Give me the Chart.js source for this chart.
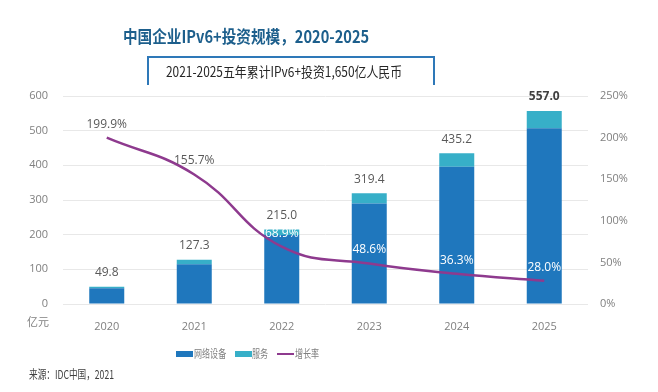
<!DOCTYPE html>
<html>
<head>
<meta charset="utf-8">
<script src="https://cdn.jsdelivr.net/npm/chart.js@4.4.0/dist/chart.umd.min.js"></script>
<style>
    body { margin: 0; background: #fff; font-family: "Open Sans", "Noto Sans CJK SC", sans-serif; }
    #wrap { position: relative; width: 658px; height: 392px; overflow: hidden; }
    #chart { position: absolute; left: 0; top: 0; }
    .txt { position: absolute; white-space: nowrap; transform-origin: left top; }
    #title { left: 123px; top: 23px; font-size: 17px; font-weight: bold; color: #1d5f8c;
             font-family: "Noto Sans CJK SC", sans-serif; transform: scaleX(0.86); }
    #bracket { position: absolute; left: 147px; top: 56px; width: 284px; height: 27px;
               border: 2px solid #2e78b8; border-bottom: none; }
    #subtitle { left: 166px; top: 61px; font-size: 14px; color: #262626;
                font-family: "Noto Sans CJK SC", sans-serif; transform: scaleX(0.85); }
    #unit { left: 27px; top: 313px; font-size: 11px; color: #808080; font-family: "Noto Sans CJK SC", sans-serif; }
    .lbox { position: absolute; width: 17px; }
    .ltxt { top: 345px; font-size: 11.5px; color: #7f7f7f; font-family: "Noto Sans CJK SC", sans-serif;
            transform: scaleX(0.7); }
    #source { left: 29px; top: 365px; font-size: 12px; color: #404040; font-family: "Noto Sans CJK SC", sans-serif;
              transform: scaleX(0.72); }
</style>
</head>
<body>
<div id="wrap">
    <canvas id="chart" width="658" height="392"></canvas>
    <div class="txt" id="title">中国企业IPv6+投资规模，2020-2025</div>
    <div id="bracket"></div>
    <div class="txt" id="subtitle">2021-2025五年累计IPv6+投资1,650亿人民币</div>
    <div class="txt" id="unit">亿元</div>

    <!-- legend -->
    <div class="lbox" style="left:176px;top:351px;height:6px;background:#1f77bd"></div>
    <div class="txt ltxt" style="left:194px">网络设备</div>
    <div class="lbox" style="left:235px;top:351px;height:6px;background:#37afc8"></div>
    <div class="txt ltxt" style="left:252px">服务</div>
    <div class="lbox" style="left:277px;top:353px;height:2px;background:#8e3a8e"></div>
    <div class="txt ltxt" style="left:295px">增长率</div>

    <div class="txt" id="source">来源：IDC中国，2021</div>
</div>
<script>
    // data
    const years = ['2020', '2021', '2022', '2023', '2024', '2025']
    const network = [45.5, 115.0, 199.0, 290.0, 395.7, 507.0]
    const service = [4.3, 12.3, 16.0, 29.4, 39.5, 50.0]
    const totals = [49.8, 127.3, 215.0, 319.4, 435.2, 557.0]
    const growth = [199.9, 155.7, 68.9, 48.6, 36.3, 28.0]
    const leftTicks = [0, 100, 200, 300, 400, 500, 600]
    const rightTicks = [0, 50, 100, 150, 200, 250]

    const numFont = '"Open Sans", sans-serif'

    // totals above the bars, growth labels over the line
    const labelPlugin = {
        id: 'valueLabels',
        afterDatasetsDraw(chart) {
            const ctx = chart.ctx
            const x = chart.scales.x
            const y = chart.scales.y
            const y1 = chart.scales.y1
            ctx.save()
            ctx.textAlign = 'center'
            ctx.textBaseline = 'middle'
            for (let i = 0; i < years.length; i++) {
                let px = x.getPixelForValue(i)
                let last = i == years.length - 1
                ctx.font = (last ? 'bold ' : '') + '12px ' + numFont
                ctx.fillStyle = last ? '#404040' : '#595959'
                ctx.fillText(totals[i].toFixed(1), px, y.getPixelForValue(totals[i]) - 14)

                ctx.font = '12px ' + numFont
                ctx.fillStyle = i < 2 ? '#595959' : '#ffffff'
                ctx.fillText(growth[i].toFixed(1) + '%', px, y1.getPixelForValue(growth[i]) - 13.5)
            }
            ctx.restore()
        }
    }

    const ctx = document.getElementById('chart').getContext('2d')

    const config = {
        type: 'bar',
        data: {
            labels: years,
            datasets: [{
                type: 'line',
                label: '增长率',
                data: growth,
                yAxisID: 'y1',
                borderColor: '#8e3a8e',
                borderWidth: 2.5,
                pointRadius: 0,
                tension: 0.45,
                fill: false,
                order: 0
            }, {
                label: '网络设备',
                data: network,
                backgroundColor: '#1f77bd',
                yAxisID: 'y',
                stack: 's',
                order: 1
            }, {
                label: '服务',
                data: service,
                backgroundColor: '#37afc8',
                yAxisID: 'y',
                stack: 's',
                order: 1
            }]
        },
        options: {
            responsive: false,
            animation: false,
            barPercentage: 0.4,
            categoryPercentage: 1.0,
            layout: { padding: { top: 96, bottom: 58, left: 0, right: 0 } },
            plugins: {
                legend: { display: false },
                tooltip: { enabled: false }
            },
            scales: {
                x: {
                    stacked: true,
                    grid: { display: false },
                    border: { display: false },
                    ticks: { padding: 8, color: '#808080', font: { size: 11, family: numFont } },
                    afterFit(scale) { scale.height = 30 }
                },
                y: {
                    stacked: true,
                    min: 0,
                    max: 600,
                    afterBuildTicks(scale) { scale.ticks = leftTicks.map(v => ({ value: v })) },
                    grid: { color: '#e8e8e8', lineWidth: 1, drawTicks: false },
                    border: { display: false },
                    ticks: { padding: 15, color: '#808080', font: { size: 11, family: numFont } },
                    afterFit(scale) { scale.width = 63 }
                },
                y1: {
                    position: 'right',
                    min: 0,
                    max: 250,
                    afterBuildTicks(scale) { scale.ticks = rightTicks.map(v => ({ value: v })) },
                    grid: { display: false, drawTicks: false },
                    border: { display: false },
                    ticks: {
                        padding: 12,
                        color: '#808080',
                        font: { size: 11, family: numFont },
                        callback: v => v + '%'
                    },
                    afterFit(scale) { scale.width = 70 }
                }
            }
        },
        plugins: [labelPlugin]
    }

    window.ipv6Chart = new Chart(ctx, config)
</script>
</body>
</html>
